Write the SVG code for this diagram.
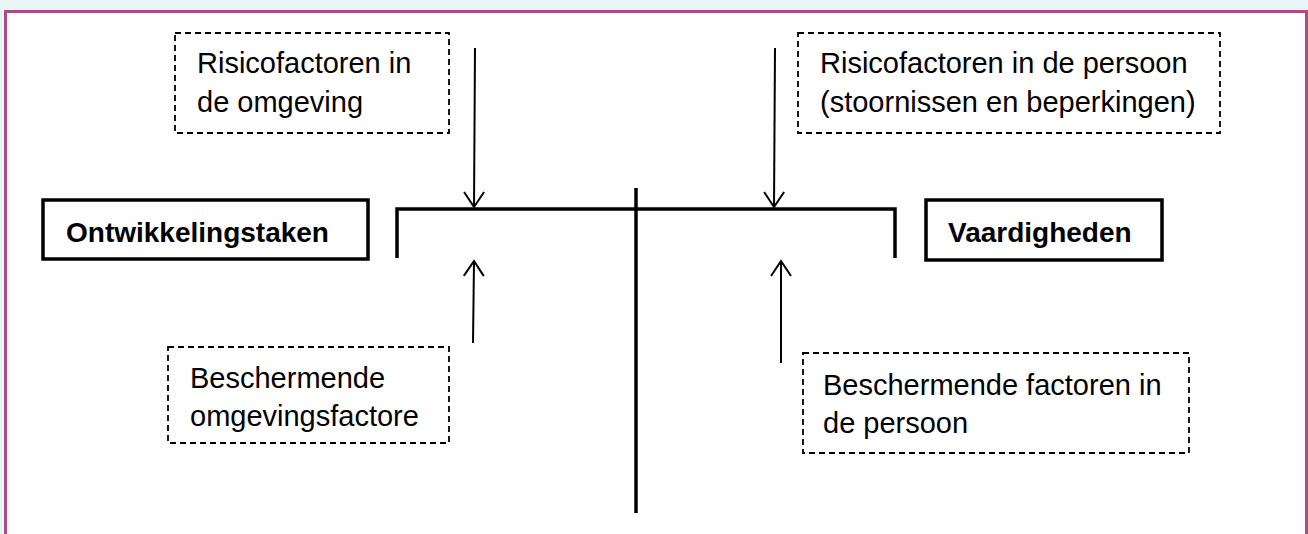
<svg xmlns="http://www.w3.org/2000/svg" width="1308" height="534" viewBox="0 0 1308 534">
  <style>
    .frame{fill:#ffffff;stroke:#b04a82;stroke-width:3}
    .dash{fill:#ffffff;stroke:#000;stroke-width:1.8;stroke-dasharray:6 4}
    .solid{fill:#ffffff;stroke:#000;stroke-width:3.5}
    .txt{font-family:"Liberation Sans",Arial,sans-serif;font-size:29px;fill:#000}
    .bold{font-family:"Liberation Sans",Arial,sans-serif;font-size:28px;font-weight:bold;fill:#000}
    .bar{fill:none;stroke:#000;stroke-width:3.5}
    .arr{fill:none;stroke:#000;stroke-width:2;marker-end:url(#head)}
  </style>
  <defs>
    <marker id="head" markerUnits="userSpaceOnUse" viewBox="-17 -12 20 24" markerWidth="20" markerHeight="24" refX="0" refY="0" orient="auto" overflow="visible">
      <path d="M-15,-10 L0,0 L-15,10" fill="none" stroke="#000" stroke-width="2"/>
    </marker>
  </defs>
  <rect x="0" y="0" width="1308" height="534" fill="#e8f5f7"/>
  <path class="frame" d="M5.5 540 V11.5 H1306.5 V540"/>

  <g id="risico-omgeving">
    <rect class="dash" x="175" y="33" width="274" height="100"/>
    <text class="txt" x="197" y="73">Risicofactoren in</text>
    <text class="txt" x="197" y="112">de omgeving</text>
  </g>
  <g id="risico-persoon">
    <rect class="dash" x="798" y="33" width="422" height="100"/>
    <text class="txt" x="820" y="73">Risicofactoren in de persoon</text>
    <text class="txt" x="820" y="112">(stoornissen en beperkingen)</text>
  </g>
  <g id="ontwikkelingstaken">
    <rect class="solid" x="43" y="200" width="325" height="59"/>
    <text class="bold" x="66" y="242">Ontwikkelingstaken</text>
  </g>
  <g id="vaardigheden">
    <rect class="solid" x="926" y="200" width="236" height="60"/>
    <text class="bold" x="948" y="242">Vaardigheden</text>
  </g>
  <g id="beschermend-omgeving">
    <rect class="dash" x="168" y="347" width="281" height="96"/>
    <text class="txt" x="190" y="388">Beschermende</text>
    <text class="txt" x="190" y="426">omgevingsfactore</text>
  </g>
  <g id="beschermend-persoon">
    <rect class="dash" x="803" y="353" width="386" height="100"/>
    <text class="txt" x="823" y="395">Beschermende factoren in</text>
    <text class="txt" x="823" y="433">de persoon</text>
  </g>

  <g id="connectors">
    <path class="bar" d="M397 258 V209 H895 V258"/>
    <path class="bar" d="M636 188 V513"/>
    <path class="arr" d="M475 48 L474 207"/>
    <path class="arr" d="M775 48 L774 207"/>
    <path class="arr" d="M473 343 L474 261"/>
    <path class="arr" d="M781 363 L781 261"/>
  </g>
</svg>
